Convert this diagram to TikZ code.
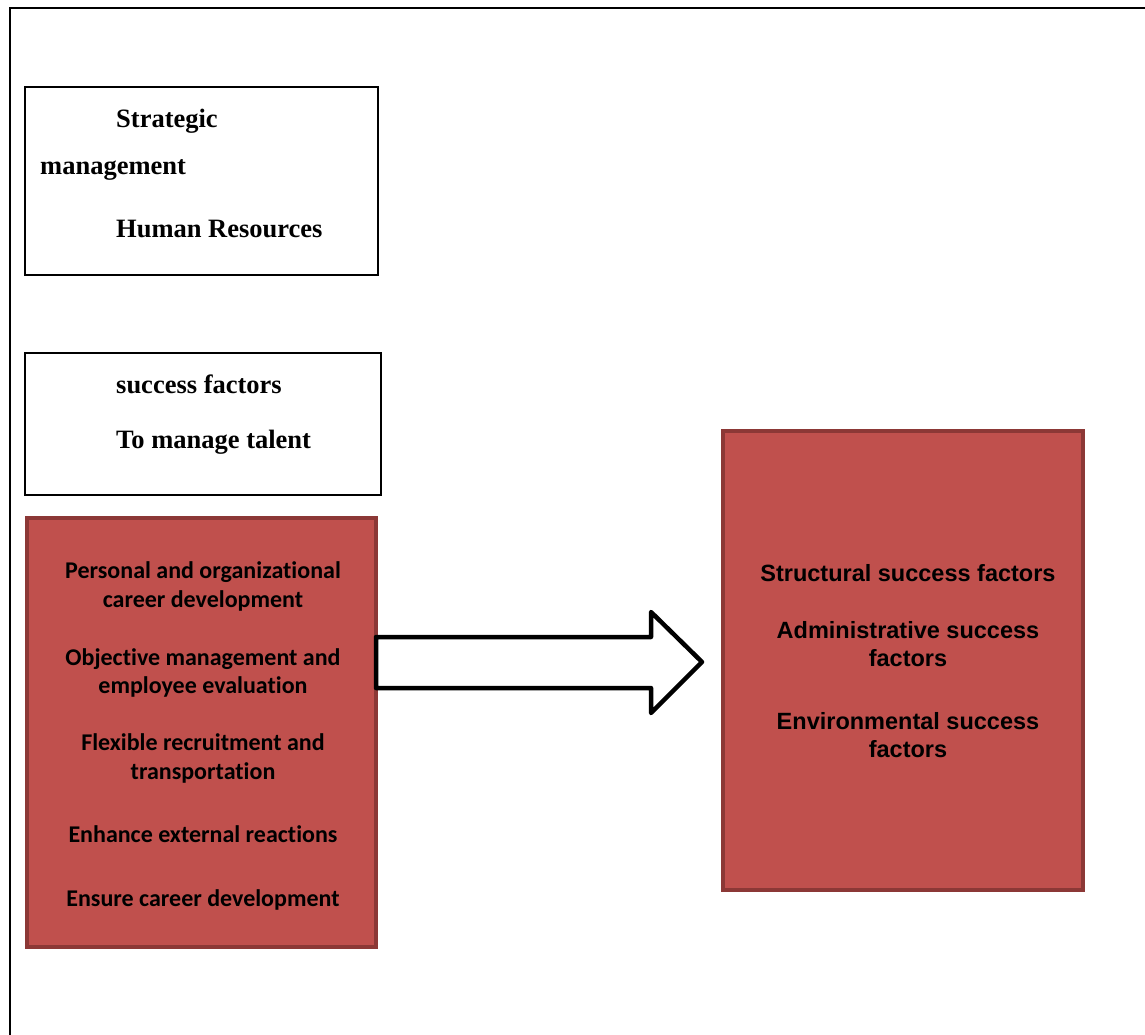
\documentclass[tikz,border=0pt]{standalone}
\usepackage{fontspec}
\setmainfont{Liberation Serif}
\newfontfamily\calibrifont[Ligatures={NoCommon,NoRare,NoContextual},RawFeature={-liga;-dlig;-calt}]{Carlito}
\newfontfamily\arialfont{Liberation Sans}
\definecolor{boxred}{HTML}{C0504D}
\definecolor{boxedge}{HTML}{8C3836}
\tikzset{
	plainbox/.style={draw,line width=2pt,inner sep=0pt,outer sep=0pt,anchor=north west},
	redbox/.style={draw=boxedge,fill=boxred,line width=4pt,inner sep=0pt,outer sep=0pt,anchor=north west},
	serif text/.style={anchor=base west,inner sep=0pt,font=\fontsize{26.5}{30}\selectfont\bfseries},
	calibri text/.style={anchor=base,inner sep=0pt,font=\calibrifont\fontsize{24}{29}\selectfont\bfseries},
	arial text/.style={anchor=base,inner sep=0pt,font=\arialfont\fontsize{23.5}{28}\selectfont\bfseries},
	blockarrow/.style={draw,fill=white,line width=4.5pt,line join=round}
}
\begin{document}
\begin{tikzpicture}[x=1pt,y=-1pt]
			\useasboundingbox (0,0) rectangle (1145,1035);
			% frame
			\draw [line width=2.3pt] (10,1035)--(10,8)--(1145,8);
			% white boxes
			\node [plainbox,minimum width=353pt,minimum height=188pt] (strategy) at (25,87) {};
			\node [serif text] (strategy1) at (116,128) {Strategic};
			\node [serif text] (strategy2) at (40,175) {management};
			\node [serif text] (strategy3) at (116,237) {Human Resources};
			\node [plainbox,minimum width=356pt,minimum height=142pt] (talent) at (25,353) {};
			\node [serif text] (talent1) at (116,393) {success factors};
			\node [serif text] (talent2) at (116,448) {To manage talent};
			% red boxes
			\node [redbox,minimum width=349pt,minimum height=429pt] (practices) at (27,518) {};
			\foreach \y/\t [count=\i] in {578/Personal and organizational,607/career development,665/Objective management and,693/employee evaluation,750/Flexible recruitment and,779/transportation,842/Enhance external reactions,906/Ensure career development}{
				\node [calibri text] (practice\i) at (203,\y) {\t};
			}
			\node [redbox,minimum width=360pt,minimum height=459pt] (factors) at (723,431) {};
			\foreach \y/\t [count=\i] in {581/Structural success factors,638/Administrative success,666/factors,729/Environmental success,757/factors}{
				\node [arial text] (factor\i) at (908,\y) {\t};
			}
			% block arrow
			\coordinate (tip) at (702,662);
			\draw [blockarrow] (practices.east |- tip) ++(0,-25) -- ++(275,0) -- ++(0,-25) -- (tip) -- ++(-51,51) -- ++(0,-25) -- ++(-275,0) -- cycle;
\end{tikzpicture}
\end{document}
